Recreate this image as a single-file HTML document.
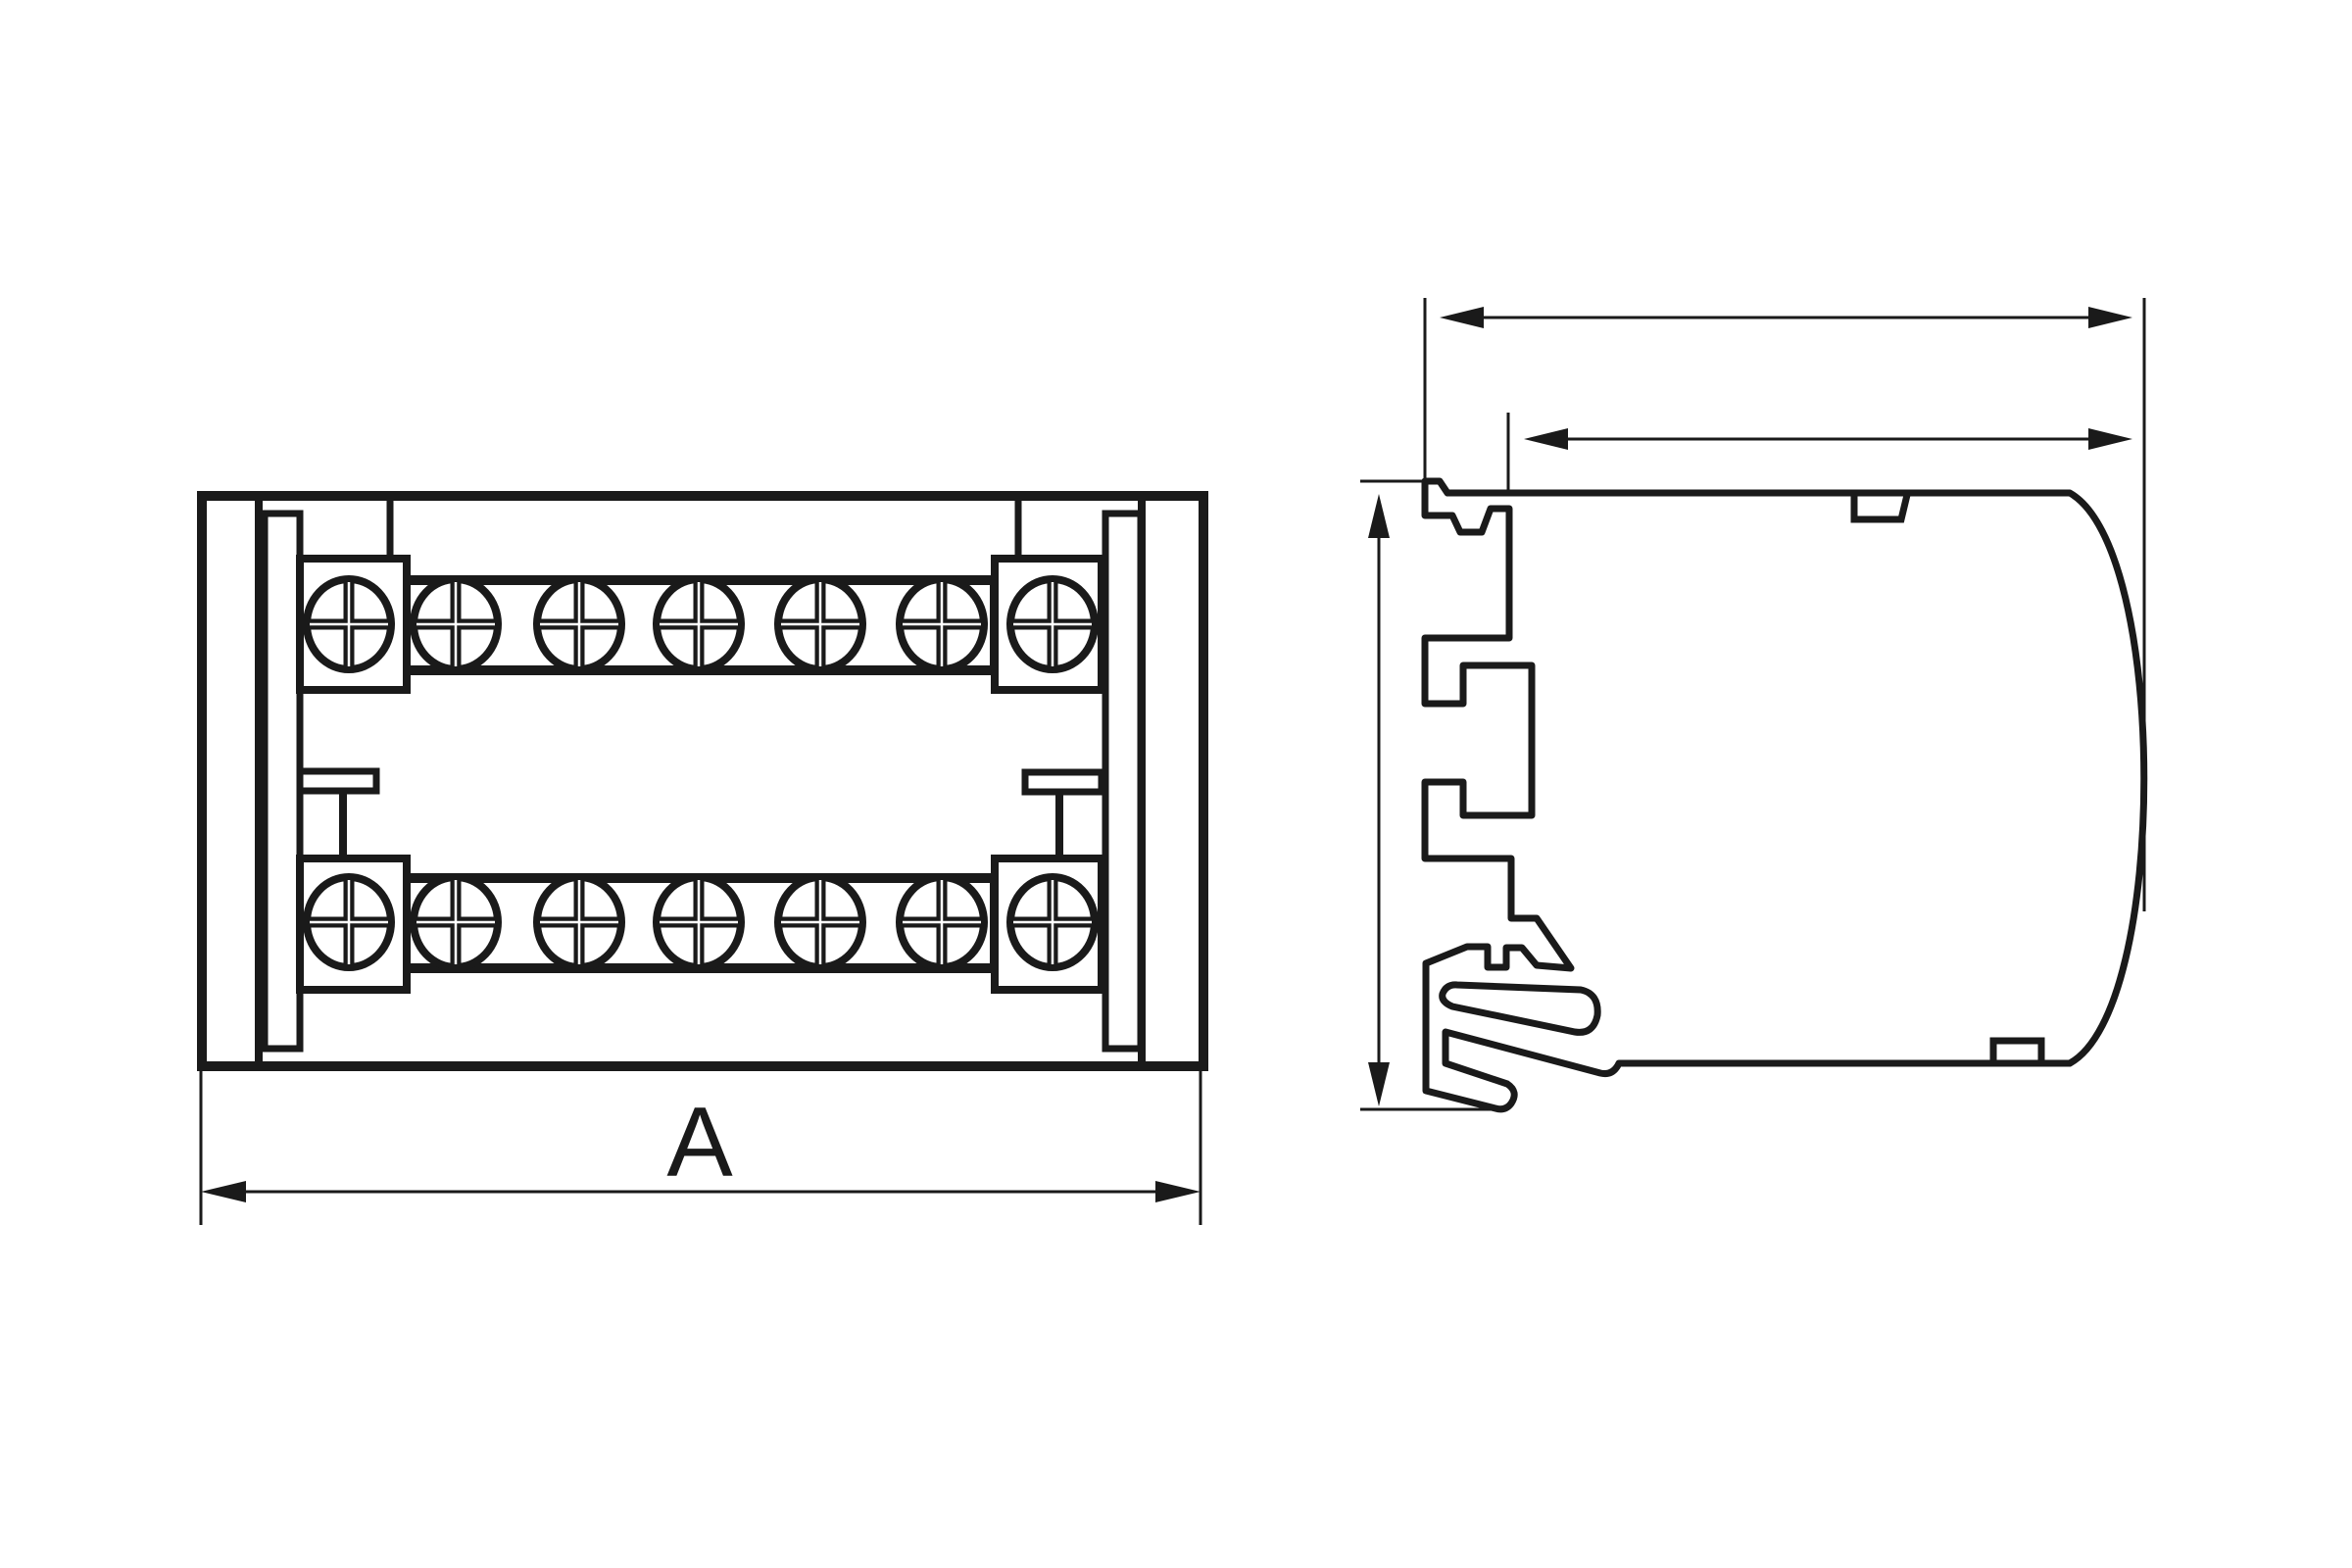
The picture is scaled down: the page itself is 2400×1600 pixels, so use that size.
<!DOCTYPE html>
<html><head><meta charset="utf-8"><style>html,body{margin:0;padding:0;background:#fff}svg{display:block}</style></head>
<body>
<svg width="2400" height="1600" viewBox="0 0 2400 1600" xmlns="http://www.w3.org/2000/svg">
<defs>
<g id="scr">
  <ellipse cx="0" cy="0" rx="43" ry="46" fill="#fff" stroke="#1a1a1a" stroke-width="8"/>
  <line x1="-43" y1="0" x2="43" y2="0" stroke="#1a1a1a" stroke-width="11"/>
  <line x1="0" y1="-46" x2="0" y2="46" stroke="#1a1a1a" stroke-width="11"/>
  <line x1="-40" y1="0" x2="40" y2="0" stroke="#fff" stroke-width="2.5"/>
  <line x1="0" y1="-43" x2="0" y2="43" stroke="#fff" stroke-width="2.5"/>
</g>
</defs>
<g fill="none" stroke="#1a1a1a" stroke-linejoin="miter">
  <rect x="206" y="506" width="1022" height="582" stroke-width="10"/>
  <line x1="264" y1="506" x2="264" y2="1088" stroke-width="8"/>
  <rect x="270" y="524" width="36" height="546" stroke-width="7"/>
  <line x1="1165" y1="506" x2="1165" y2="1088" stroke-width="8"/>
  <rect x="1128" y="524" width="36" height="546" stroke-width="7"/>
  <line x1="398" y1="506" x2="398" y2="570" stroke-width="7"/>
  <line x1="1039" y1="506" x2="1039" y2="570" stroke-width="7"/>
  <rect x="414" y="592" width="601" height="92" stroke-width="10"/>
  <rect x="414" y="896" width="601" height="92" stroke-width="10"/>
  <rect x="306" y="570" width="109" height="134" fill="#fff" stroke-width="8"/>
  <rect x="1015" y="570" width="109" height="134" fill="#fff" stroke-width="8"/>
  <rect x="306" y="876" width="109" height="134" fill="#fff" stroke-width="8"/>
  <rect x="1015" y="876" width="109" height="134" fill="#fff" stroke-width="8"/>
  <rect x="306" y="787" width="78" height="20" stroke-width="7"/>
  <line x1="350" y1="807" x2="350" y2="876" stroke-width="8"/>
  <rect x="1046" y="788" width="78" height="20" stroke-width="7"/>
  <line x1="1081" y1="808" x2="1081" y2="876" stroke-width="8"/>
</g>
<g>
  <use href="#scr" x="356" y="637"/><use href="#scr" x="465" y="637"/><use href="#scr" x="591" y="637"/><use href="#scr" x="713" y="637"/><use href="#scr" x="837" y="637"/><use href="#scr" x="961" y="637"/><use href="#scr" x="1074" y="637"/>
  <use href="#scr" x="356" y="941"/><use href="#scr" x="465" y="941"/><use href="#scr" x="591" y="941"/><use href="#scr" x="713" y="941"/><use href="#scr" x="837" y="941"/><use href="#scr" x="961" y="941"/><use href="#scr" x="1074" y="941"/>
</g>
<g stroke="#1a1a1a" stroke-width="3">
  <line x1="205" y1="1088" x2="205" y2="1250"/>
  <line x1="1225" y1="1088" x2="1225" y2="1250"/>
  <line x1="240" y1="1216" x2="1190" y2="1216"/>
</g>
<polygon points="205,1216 251,1205 251,1227" fill="#1a1a1a"/>
<polygon points="1225,1216 1179,1205 1179,1227" fill="#1a1a1a"/>
<text x="714" y="1200" font-family="Liberation Sans, sans-serif" font-size="101" text-anchor="middle" fill="#1a1a1a">A</text>

<g stroke="#1a1a1a" stroke-width="3">
  <line x1="1454" y1="304" x2="1454" y2="492"/>
  <line x1="1539" y1="421" x2="1539" y2="503"/>
  <line x1="2188" y1="304" x2="2188" y2="930"/>
  <line x1="1500" y1="324" x2="2145" y2="324"/>
  <line x1="1590" y1="448" x2="2145" y2="448"/>
  <line x1="1388" y1="491" x2="1454" y2="491"/>
  <line x1="1388" y1="1132" x2="1531" y2="1132"/>
  <line x1="1407" y1="540" x2="1407" y2="1095"/>
</g>
<g fill="#1a1a1a">
  <polygon points="1469,324 1514,313 1514,335"/>
  <polygon points="2176,324 2131,313 2131,335"/>
  <polygon points="1555,448 1600,437 1600,459"/>
  <polygon points="2176,448 2131,437 2131,459"/>
  <polygon points="1407,504 1396,549 1418,549"/>
  <polygon points="1407,1129 1396,1084 1418,1084"/>
</g>
<path fill="none" stroke="#1a1a1a" stroke-width="7" stroke-linejoin="round"
 d="M1477,503 L2112,503 C2213,560 2213,1030 2112,1085 L1652,1085 Q1646,1098 1633,1095 L1475,1053 L1475,1085 L1538,1106 Q1550,1114 1542,1126 Q1536,1134 1526,1131 L1455,1113 L1455,983 L1497,966 L1518,966 L1518,987 L1537,987 L1537,967 L1553,967 L1568,985 L1603,988 L1568,937 L1542,937 L1542,876 L1454,876 L1454,798 L1493,798 L1493,832 L1563,832 L1563,679 L1493,679 L1493,718 L1454,718 L1454,651 L1540,651 L1540,519 L1521,519 L1512,543 L1490,543 L1482,526 L1454,526 L1454,491 L1469,491 Z"/>
<path fill="none" stroke="#1a1a1a" stroke-width="7" d="M1487,1005 L1613,1010 Q1632,1014 1630,1036 Q1626,1056 1607,1053 L1482,1027 Q1470,1022 1472,1014 Q1476,1004 1487,1005 Z"/>
<path fill="none" stroke="#1a1a1a" stroke-width="7" d="M1892,505 L1892,530 L1940,530 L1946,505"/>
<path fill="none" stroke="#1a1a1a" stroke-width="7" d="M2034,1084 L2034,1062 L2083,1062 L2083,1084"/>
</svg>
</body></html>
